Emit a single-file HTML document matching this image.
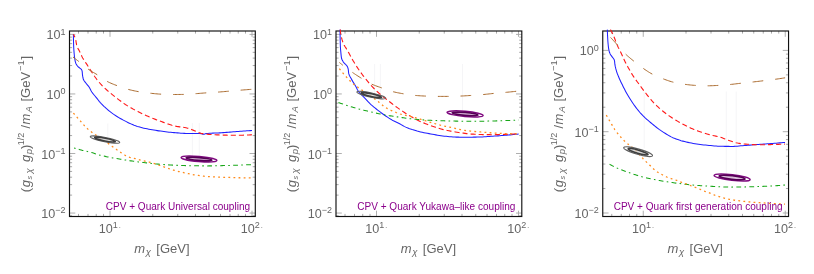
<!DOCTYPE html>
<html lang="en">
<head>
<meta charset="utf-8">
<title>CPV coupling limits</title>
<style>
html,body{margin:0;padding:0;background:#fff;}
body{width:814px;height:274px;overflow:hidden;}
svg{display:block;will-change:transform;}
</style>
</head>
<body>
<svg width="814" height="274" viewBox="0 0 814 274" font-family='"Liberation Sans", Arial, Helvetica, sans-serif'>
<rect width="814" height="274" fill="#ffffff"/>
<g id="panel1">
<clipPath id="clip0"><rect x="69.5" y="29.2" width="185.8" height="187.3"/></clipPath>
<path d="M78.5 216.5v-2.6M78.5 31v2.6M88 216.5v-2.6M88 31v2.6M96.24 216.5v-2.6M96.24 31v2.6M103.5 216.5v-2.6M103.5 31v2.6M152.75 216.5v-2.6M152.75 31v2.6M177.75 216.5v-2.6M177.75 31v2.6M195.49 216.5v-2.6M195.49 31v2.6M209.25 216.5v-2.6M209.25 31v2.6M220.5 216.5v-2.6M220.5 31v2.6M230 216.5v-2.6M230 31v2.6M238.24 216.5v-2.6M238.24 31v2.6M245.5 216.5v-2.6M245.5 31v2.6M69.5 215.77h2.6M255.3 215.77h-2.6M69.5 195.12h2.6M255.3 195.12h-2.6M69.5 184.64h2.6M255.3 184.64h-2.6M69.5 177.2h2.6M255.3 177.2h-2.6M69.5 171.43h2.6M255.3 171.43h-2.6M69.5 166.71h2.6M255.3 166.71h-2.6M69.5 162.72h2.6M255.3 162.72h-2.6M69.5 159.27h2.6M255.3 159.27h-2.6M69.5 156.22h2.6M255.3 156.22h-2.6M69.5 135.57h2.6M255.3 135.57h-2.6M69.5 125.09h2.6M255.3 125.09h-2.6M69.5 117.65h2.6M255.3 117.65h-2.6M69.5 111.88h2.6M255.3 111.88h-2.6M69.5 107.16h2.6M255.3 107.16h-2.6M69.5 103.17h2.6M255.3 103.17h-2.6M69.5 99.72h2.6M255.3 99.72h-2.6M69.5 96.67h2.6M255.3 96.67h-2.6M69.5 76.02h2.6M255.3 76.02h-2.6M69.5 65.54h2.6M255.3 65.54h-2.6M69.5 58.1h2.6M255.3 58.1h-2.6M69.5 52.33h2.6M255.3 52.33h-2.6M69.5 47.61h2.6M255.3 47.61h-2.6M69.5 43.62h2.6M255.3 43.62h-2.6M69.5 40.17h2.6M255.3 40.17h-2.6M69.5 37.12h2.6M255.3 37.12h-2.6" stroke="#7c7c7c" stroke-width="0.65" fill="none"/>
<path d="M110 216.5v-5.8M110 31v5.8M252 216.5v-5.8M252 31v5.8M69.5 34.4h5.8M255.3 34.4h-5.8M69.5 93.95h5.8M255.3 93.95h-5.8M69.5 153.5h5.8M255.3 153.5h-5.8M69.5 213.05h5.8M255.3 213.05h-5.8" stroke="#a6a6a6" stroke-width="0.9" fill="none"/>
<rect x="69.5" y="31" width="185.8" height="185.5" fill="none" stroke="#111111" stroke-width="1.15"/>
<g clip-path="url(#clip0)" fill="none" stroke-linecap="butt" stroke-linejoin="round">
<path d="M107.8 123.5V137.5M192.4 123V156.5M199.3 123V156.5" stroke="#f1f0f4" stroke-width="0.7"/>
<path d="M73.40 34.40 L73.41 36.10 L73.43 37.80 L73.46 39.51 L73.50 41.21 L73.56 42.91 L73.61 44.61 L73.67 46.30 L73.74 48.00 L73.85 49.70 L73.98 51.40 L74.12 53.09 L74.27 54.79 L74.44 56.48 L74.65 58.17 L74.93 59.86 L75.29 61.57 L75.77 63.19 L76.45 64.65 L77.52 66.01 L78.75 67.26 L80.13 68.33 L81.46 69.39 L82.09 70.92 L82.30 72.61 L82.42 74.31 L82.64 76.03 L82.94 77.73 L83.34 79.32 L84.09 80.79 L85.15 82.18 L86.23 83.54 L87.32 84.86 L88.43 86.16 L89.40 87.53 L90.19 89.04 L90.93 90.58 L91.81 92.03 L92.83 93.39 L93.91 94.72 L94.98 96.03 L96.08 97.33 L97.16 98.65 L98.19 100.01 L99.23 101.36 L100.35 102.62 L101.51 103.86 L102.71 105.08 L103.93 106.28 L105.18 107.45 L106.45 108.60 L107.74 109.72 L109.06 110.80 L110.38 111.85 L111.72 112.87 L113.09 113.86 L114.49 114.82 L115.91 115.77 L117.36 116.69 L118.82 117.59 L120.29 118.46 L121.78 119.30 L123.28 120.11 L124.78 120.89 L126.29 121.65 L127.82 122.41 L129.36 123.16 L130.91 123.88 L132.48 124.57 L134.06 125.23 L135.65 125.84 L137.25 126.39 L138.86 126.87 L140.49 127.32 L142.13 127.74 L143.78 128.14 L145.44 128.51 L147.12 128.86 L148.80 129.19 L150.48 129.50 L152.16 129.80 L153.84 130.08 L155.52 130.35 L157.19 130.61 L158.88 130.86 L160.56 131.10 L162.25 131.34 L163.94 131.56 L165.63 131.77 L167.32 131.97 L169.01 132.15 L170.70 132.32 L172.40 132.47 L174.09 132.61 L175.78 132.75 L177.48 132.89 L179.18 133.03 L180.88 133.16 L182.57 133.28 L184.27 133.39 L185.97 133.47 L187.67 133.54 L189.37 133.58 L191.07 133.60 L192.78 133.59 L194.49 133.57 L196.20 133.54 L197.90 133.52 L199.59 133.50 L201.26 133.61 L202.91 134.18 L204.54 134.11 L206.17 133.58 L207.84 133.42 L209.52 133.30 L211.22 133.21 L212.92 133.13 L214.63 133.07 L216.35 133.01 L218.06 132.94 L219.77 132.86 L221.46 132.76 L223.16 132.64 L224.86 132.52 L226.55 132.39 L228.25 132.26 L229.95 132.12 L231.64 131.99 L233.34 131.85 L235.03 131.71 L236.73 131.58 L238.42 131.45 L240.12 131.33 L241.82 131.20 L243.51 131.08 L245.21 130.96 L246.91 130.85 L248.61 130.73 L250.30 130.61 L252.00 130.50" stroke="#2020ff" stroke-width="1.05"/>
<path d="M73.40 34.40 L74.22 35.80 L74.93 37.24 L75.46 38.71 L75.82 40.25 L76.08 41.85 L76.32 43.46 L76.60 45.04 L76.99 46.55 L77.63 47.98 L78.49 49.35 L79.28 50.75 L79.97 52.19 L80.62 53.65 L81.27 55.11 L81.95 56.56 L82.69 57.96 L83.50 59.33 L84.36 60.67 L85.26 62.00 L86.16 63.32 L87.04 64.66 L87.89 66.00 L88.74 67.36 L89.59 68.71 L90.45 70.06 L91.31 71.40 L92.19 72.73 L93.07 74.06 L93.96 75.39 L94.86 76.71 L95.79 78.01 L96.73 79.29 L97.71 80.55 L98.72 81.78 L99.76 83.00 L100.82 84.20 L101.91 85.37 L103.01 86.51 L104.15 87.63 L105.32 88.71 L106.51 89.77 L107.72 90.82 L108.94 91.86 L110.16 92.88 L111.39 93.91 L112.62 94.92 L113.87 95.91 L115.13 96.89 L116.40 97.87 L117.66 98.84 L118.93 99.82 L120.20 100.79 L121.49 101.75 L122.78 102.69 L124.08 103.61 L125.40 104.51 L126.73 105.37 L128.08 106.20 L129.44 107.02 L130.82 107.82 L132.21 108.60 L133.61 109.37 L135.02 110.13 L136.44 110.87 L137.87 111.60 L139.30 112.32 L140.74 113.02 L142.18 113.71 L143.63 114.39 L145.08 115.05 L146.53 115.71 L147.99 116.34 L149.45 116.97 L150.93 117.59 L152.41 118.19 L153.89 118.78 L155.38 119.36 L156.87 119.93 L158.37 120.49 L159.87 121.04 L161.37 121.59 L162.87 122.14 L164.37 122.69 L165.87 123.25 L167.38 123.80 L168.89 124.33 L170.41 124.83 L171.94 125.30 L173.47 125.72 L175.01 126.08 L176.57 126.38 L178.15 126.63 L179.73 126.85 L181.33 127.05 L182.92 127.27 L184.49 127.51 L186.05 127.80 L187.59 128.17 L189.11 128.65 L190.61 129.19 L192.11 129.77 L193.60 130.36 L195.10 130.93 L196.57 131.59 L198.04 132.28 L199.53 132.89 L201.03 133.33 L202.56 133.58 L204.12 133.81 L205.70 134.00 L207.29 134.18 L208.89 134.33 L210.49 134.46 L212.10 134.57 L213.71 134.67 L215.31 134.75 L216.90 134.83 L218.50 134.89 L220.09 134.96 L221.68 135.02 L223.28 135.08 L224.88 135.13 L226.47 135.18 L228.07 135.22 L229.66 135.25 L231.26 135.28 L232.86 135.29 L234.45 135.30 L236.05 135.30 L237.64 135.28 L239.24 135.26 L240.83 135.23 L242.43 135.20 L244.02 135.15 L245.62 135.10 L247.21 135.03 L248.81 134.96 L250.40 134.89 L252.00 134.80" stroke="#ff1a1a" stroke-width="1.12" stroke-dasharray="5.1 3" stroke-dashoffset="1.8"/>
<path d="M73.00 57.00 L74.08 57.83 L75.15 58.66 L76.22 59.50 L77.29 60.34 L78.36 61.18 L79.43 62.02 L80.48 62.88 L81.53 63.75 L82.58 64.63 L83.62 65.50 L84.67 66.37 L85.72 67.23 L86.79 68.08 L87.87 68.90 L88.96 69.69 L90.08 70.45 L91.22 71.18 L92.39 71.88 L93.57 72.56 L94.75 73.24 L95.92 73.94 L97.08 74.65 L98.22 75.40 L99.34 76.17 L100.46 76.96 L101.57 77.76 L102.68 78.55 L103.80 79.33 L104.94 80.08 L106.08 80.80 L107.25 81.46 L108.45 82.08 L109.67 82.66 L110.91 83.21 L112.16 83.74 L113.43 84.25 L114.70 84.75 L115.98 85.23 L117.26 85.71 L118.53 86.18 L119.81 86.65 L121.09 87.11 L122.37 87.56 L123.66 88.00 L124.96 88.43 L126.26 88.83 L127.56 89.21 L128.87 89.57 L130.18 89.90 L131.50 90.21 L132.83 90.52 L134.16 90.80 L135.49 91.08 L136.83 91.34 L138.17 91.58 L139.51 91.80 L140.85 92.01 L142.19 92.21 L143.54 92.41 L144.89 92.59 L146.24 92.76 L147.59 92.93 L148.94 93.08 L150.29 93.23 L151.64 93.37 L152.99 93.50 L154.35 93.64 L155.70 93.77 L157.06 93.89 L158.41 94.00 L159.77 94.10 L161.12 94.17 L162.48 94.23 L163.84 94.28 L165.20 94.33 L166.56 94.37 L167.92 94.41 L169.27 94.45 L170.63 94.47 L171.99 94.49 L173.35 94.50 L174.71 94.50 L176.07 94.49 L177.43 94.49 L178.79 94.48 L180.15 94.46 L181.51 94.45 L182.87 94.43 L184.23 94.41 L185.59 94.38 L186.94 94.33 L188.30 94.26 L189.66 94.17 L191.01 94.06 L192.37 93.95 L193.72 93.84 L195.08 93.72 L196.44 93.62 L197.79 93.52 L199.15 93.42 L200.50 93.31 L201.86 93.20 L203.21 93.09 L204.57 92.98 L205.92 92.88 L207.28 92.78 L208.63 92.69 L209.99 92.60 L211.35 92.51 L212.70 92.43 L214.06 92.34 L215.42 92.25 L216.77 92.16 L218.13 92.07 L219.49 91.97 L220.84 91.87 L222.20 91.76 L223.55 91.65 L224.90 91.53 L226.26 91.41 L227.61 91.30 L228.97 91.18 L230.32 91.06 L231.68 90.95 L233.03 90.83 L234.38 90.71 L235.74 90.59 L237.09 90.47 L238.45 90.35 L239.80 90.23 L241.16 90.12 L242.51 90.01 L243.87 89.90 L245.22 89.80 L246.58 89.70 L247.93 89.59 L249.29 89.49 L250.64 89.40 L252.00 89.30" stroke="#ab6c30" stroke-width="1.0" stroke-dasharray="10.7 11.9" stroke-dashoffset="3.2"/>
<path d="M72.50 147.50 L73.75 147.89 L74.99 148.27 L76.24 148.64 L77.50 149.01 L78.75 149.37 L80.01 149.72 L81.27 150.06 L82.53 150.39 L83.80 150.70 L85.07 151.00 L86.34 151.29 L87.61 151.58 L88.89 151.87 L90.16 152.18 L91.42 152.50 L92.68 152.84 L93.92 153.22 L95.16 153.65 L96.39 154.09 L97.62 154.51 L98.87 154.87 L100.13 155.20 L101.39 155.51 L102.66 155.81 L103.93 156.10 L105.21 156.38 L106.48 156.65 L107.77 156.92 L109.05 157.17 L110.33 157.42 L111.62 157.66 L112.90 157.90 L114.19 158.13 L115.47 158.36 L116.75 158.59 L118.04 158.81 L119.32 159.03 L120.61 159.25 L121.90 159.46 L123.19 159.67 L124.47 159.88 L125.76 160.08 L127.05 160.28 L128.34 160.48 L129.64 160.67 L130.93 160.86 L132.22 161.04 L133.51 161.22 L134.80 161.40 L136.10 161.57 L137.39 161.74 L138.68 161.91 L139.98 162.08 L141.27 162.24 L142.57 162.41 L143.86 162.57 L145.16 162.73 L146.45 162.89 L147.75 163.05 L149.05 163.20 L150.34 163.35 L151.64 163.50 L152.94 163.64 L154.24 163.77 L155.53 163.90 L156.83 164.03 L158.13 164.14 L159.43 164.25 L160.73 164.35 L162.03 164.44 L163.33 164.54 L164.63 164.63 L165.93 164.71 L167.23 164.80 L168.54 164.88 L169.84 164.97 L171.14 165.04 L172.45 165.12 L173.75 165.19 L175.05 165.26 L176.36 165.32 L177.66 165.38 L178.96 165.44 L180.27 165.49 L181.57 165.53 L182.88 165.57 L184.18 165.60 L185.48 165.62 L186.79 165.65 L188.09 165.68 L189.40 165.70 L190.70 165.73 L192.01 165.75 L193.31 165.77 L194.61 165.79 L195.92 165.81 L197.22 165.83 L198.53 165.85 L199.83 165.86 L201.14 165.87 L202.44 165.88 L203.75 165.89 L205.05 165.90 L206.36 165.90 L207.66 165.90 L208.97 165.89 L210.27 165.88 L211.57 165.87 L212.88 165.85 L214.18 165.83 L215.49 165.80 L216.79 165.77 L218.10 165.74 L219.40 165.71 L220.71 165.67 L222.01 165.63 L223.31 165.59 L224.62 165.56 L225.92 165.52 L227.23 165.48 L228.53 165.44 L229.84 165.40 L231.14 165.37 L232.44 165.33 L233.75 165.29 L235.05 165.25 L236.36 165.21 L237.66 165.16 L238.96 165.12 L240.27 165.07 L241.57 165.02 L242.87 164.97 L244.18 164.92 L245.48 164.87 L246.79 164.82 L248.09 164.77 L249.39 164.71 L250.70 164.66 L252.00 164.60" stroke="#17a617" stroke-width="1.05" stroke-dasharray="4.8 3.3 1.6 3.3" stroke-dashoffset="6.5"/>
<path d="M73.40 113.10 L74.33 114.17 L75.27 115.23 L76.21 116.30 L77.14 117.36 L78.08 118.42 L79.03 119.48 L79.97 120.53 L80.91 121.59 L81.84 122.67 L82.77 123.75 L83.70 124.83 L84.64 125.89 L85.61 126.93 L86.60 127.93 L87.63 128.88 L88.70 129.80 L89.80 130.69 L90.92 131.56 L92.07 132.41 L93.22 133.25 L94.38 134.07 L95.54 134.87 L96.73 135.65 L97.93 136.40 L99.14 137.15 L100.35 137.89 L101.55 138.64 L102.73 139.42 L103.90 140.23 L105.04 141.06 L106.18 141.90 L107.31 142.76 L108.44 143.62 L109.57 144.47 L110.71 145.32 L111.86 146.15 L113.01 146.98 L114.16 147.81 L115.31 148.64 L116.46 149.47 L117.62 150.29 L118.78 151.10 L119.95 151.90 L121.12 152.70 L122.30 153.48 L123.49 154.25 L124.68 155.05 L125.89 155.79 L127.14 156.41 L128.46 156.92 L129.81 157.37 L131.18 157.77 L132.55 158.10 L133.94 158.38 L135.34 158.66 L136.72 158.98 L138.08 159.37 L139.43 159.79 L140.79 160.19 L142.17 160.54 L143.55 160.86 L144.94 161.15 L146.32 161.45 L147.71 161.75 L149.09 162.07 L150.46 162.42 L151.82 162.81 L153.17 163.23 L154.52 163.66 L155.87 164.11 L157.21 164.57 L158.55 165.03 L159.89 165.49 L161.24 165.95 L162.58 166.40 L163.92 166.87 L165.25 167.35 L166.59 167.83 L167.93 168.30 L169.26 168.77 L170.61 169.22 L171.96 169.65 L173.31 170.05 L174.68 170.43 L176.04 170.80 L177.42 171.16 L178.79 171.51 L180.17 171.84 L181.55 172.17 L182.93 172.49 L184.31 172.80 L185.70 173.11 L187.08 173.42 L188.47 173.73 L189.85 174.02 L191.24 174.31 L192.64 174.58 L194.03 174.83 L195.43 175.06 L196.82 175.27 L198.23 175.48 L199.63 175.68 L201.04 175.87 L202.45 176.05 L203.86 176.21 L205.27 176.35 L206.68 176.47 L208.09 176.57 L209.50 176.65 L210.91 176.74 L212.33 176.82 L213.74 176.89 L215.16 176.96 L216.57 177.02 L217.99 177.09 L219.41 177.14 L220.82 177.20 L222.24 177.25 L223.66 177.30 L225.08 177.35 L226.50 177.39 L227.91 177.44 L229.33 177.48 L230.75 177.52 L232.16 177.56 L233.58 177.60 L235.00 177.64 L236.41 177.68 L237.83 177.72 L239.25 177.76 L240.66 177.79 L242.08 177.82 L243.50 177.85 L244.91 177.88 L246.33 177.91 L247.75 177.94 L249.17 177.96 L250.58 177.98 L252.00 178.00" stroke="#ff8a1a" stroke-width="1.28" stroke-dasharray="1.85 3.25"/>
<g transform="translate(105 139.6) rotate(11.1)"><ellipse rx="15" ry="2.15" stroke="#626262" stroke-width="1.12"/><ellipse rx="10.6" ry="1.35" stroke="#3e3e3e" stroke-width="1.6" fill="#cdcdcd" fill-opacity="0.75"/></g>
<g transform="translate(199 159) rotate(4.9)"><ellipse rx="17.9" ry="2.55" stroke="#800a80" stroke-width="1.5"/><ellipse rx="12.8" ry="1.4" stroke="#560056" stroke-width="1.7" fill="#d2b2d2" fill-opacity="0.8"/></g>
</g>
<text x="65.6" y="39.4" text-anchor="end" font-size="12.6" fill="#666666">10<tspan font-size="9" dy="-4.7">1</tspan></text>
<text x="65.6" y="98.95" text-anchor="end" font-size="12.6" fill="#666666">10<tspan font-size="9" dy="-4.7">0</tspan></text>
<text x="65.6" y="158.5" text-anchor="end" font-size="12.6" fill="#666666">10<tspan font-size="9" dy="-4.7">−1</tspan></text>
<text x="65.6" y="218.05" text-anchor="end" font-size="12.6" fill="#666666">10<tspan font-size="9" dy="-4.7">−2</tspan></text>
<text x="98.7" y="232.7" font-size="12.6" fill="#666666">10<tspan font-size="9" dy="-5.0">1</tspan><tspan font-size="9" fill="#a0a0a0" dx="0.8">.</tspan></text>
<text x="240.7" y="232.7" font-size="12.6" fill="#666666">10<tspan font-size="9" dy="-5.0">2</tspan><tspan font-size="9" fill="#a0a0a0" dx="0.8">.</tspan></text>
<text y="253.3" font-size="13" fill="#666666"><tspan x="134.3" font-style="italic">m</tspan><tspan x="145.7" font-style="italic" font-size="9.5" dy="1.9">χ</tspan><tspan x="156.3" dy="-1.9">[GeV]</tspan></text>
<text transform="translate(29.5 191.5) rotate(-90)" font-size="13" fill="#666666"><tspan x="-0.8">(</tspan><tspan x="4.3" font-style="italic">g</tspan><tspan x="11.9" dy="2" font-style="italic" font-size="7.2">s</tspan><tspan x="18.1" font-style="italic" font-size="9.5">χ</tspan><tspan x="29.6" dy="-2" font-style="italic">g</tspan><tspan x="37.2" dy="2" font-style="italic" font-size="9.5">p</tspan><tspan x="42.4" dy="-2">)</tspan><tspan x="46.3" dy="-5.8" font-size="9">1/2</tspan><tspan x="62.9" dy="5.8">/</tspan><tspan x="67.1" font-style="italic">m</tspan><tspan x="79.1" dy="2" font-style="italic" font-size="9.5">A</tspan><tspan x="90" dy="-2">[GeV</tspan><tspan x="120.5" dy="-5.8" font-size="9.3">−1</tspan><tspan x="131.9" dy="5.8">]</tspan></text>
<text x="250.1" y="209.7" text-anchor="end" font-size="10.05" fill="#8b008b">CPV + Quark Universal coupling</text>
</g>
<g id="panel2">
<clipPath id="clip1"><rect x="336" y="29.2" width="185.8" height="187.3"/></clipPath>
<path d="M345 216.5v-2.6M345 31v2.6M354.5 216.5v-2.6M354.5 31v2.6M362.74 216.5v-2.6M362.74 31v2.6M370 216.5v-2.6M370 31v2.6M419.25 216.5v-2.6M419.25 31v2.6M444.25 216.5v-2.6M444.25 31v2.6M461.99 216.5v-2.6M461.99 31v2.6M475.75 216.5v-2.6M475.75 31v2.6M487 216.5v-2.6M487 31v2.6M496.5 216.5v-2.6M496.5 31v2.6M504.74 216.5v-2.6M504.74 31v2.6M512 216.5v-2.6M512 31v2.6M336 215.77h2.6M521.8 215.77h-2.6M336 195.12h2.6M521.8 195.12h-2.6M336 184.64h2.6M521.8 184.64h-2.6M336 177.2h2.6M521.8 177.2h-2.6M336 171.43h2.6M521.8 171.43h-2.6M336 166.71h2.6M521.8 166.71h-2.6M336 162.72h2.6M521.8 162.72h-2.6M336 159.27h2.6M521.8 159.27h-2.6M336 156.22h2.6M521.8 156.22h-2.6M336 135.57h2.6M521.8 135.57h-2.6M336 125.09h2.6M521.8 125.09h-2.6M336 117.65h2.6M521.8 117.65h-2.6M336 111.88h2.6M521.8 111.88h-2.6M336 107.16h2.6M521.8 107.16h-2.6M336 103.17h2.6M521.8 103.17h-2.6M336 99.72h2.6M521.8 99.72h-2.6M336 96.67h2.6M521.8 96.67h-2.6M336 76.02h2.6M521.8 76.02h-2.6M336 65.54h2.6M521.8 65.54h-2.6M336 58.1h2.6M521.8 58.1h-2.6M336 52.33h2.6M521.8 52.33h-2.6M336 47.61h2.6M521.8 47.61h-2.6M336 43.62h2.6M521.8 43.62h-2.6M336 40.17h2.6M521.8 40.17h-2.6M336 37.12h2.6M521.8 37.12h-2.6" stroke="#7c7c7c" stroke-width="0.65" fill="none"/>
<path d="M376.5 216.5v-5.8M376.5 31v5.8M518.5 216.5v-5.8M518.5 31v5.8M336 34.4h5.8M521.8 34.4h-5.8M336 93.95h5.8M521.8 93.95h-5.8M336 153.5h5.8M521.8 153.5h-5.8M336 213.05h5.8M521.8 213.05h-5.8" stroke="#a6a6a6" stroke-width="0.9" fill="none"/>
<rect x="336" y="31" width="185.8" height="185.5" fill="none" stroke="#111111" stroke-width="1.15"/>
<g clip-path="url(#clip1)" fill="none" stroke-linecap="butt" stroke-linejoin="round">
<path d="M374.6 64V94M380.4 64V96M462.5 64V111" stroke="#f1f0f4" stroke-width="0.7"/>
<path d="M340.05 29.40 L340.05 31.13 L340.07 32.87 L340.08 34.60 L340.11 36.33 L340.14 38.06 L340.17 39.79 L340.22 41.52 L340.26 43.25 L340.31 44.98 L340.39 46.71 L340.50 48.44 L340.64 50.17 L340.80 51.89 L340.96 53.62 L341.13 55.36 L341.34 57.09 L341.66 58.75 L342.34 60.35 L343.22 61.85 L344.28 63.23 L345.52 64.48 L346.82 65.66 L347.63 67.11 L348.16 68.80 L348.40 70.51 L348.55 72.25 L348.84 73.92 L349.43 75.51 L350.24 77.07 L351.14 78.60 L352.01 80.12 L352.87 81.63 L353.76 83.11 L354.67 84.58 L355.56 86.07 L356.38 87.61 L357.19 89.17 L358.03 90.68 L358.97 92.10 L360.07 93.39 L361.30 94.62 L362.58 95.82 L363.84 97.03 L365.03 98.29 L366.20 99.57 L367.36 100.85 L368.54 102.13 L369.75 103.37 L370.99 104.55 L372.28 105.71 L373.60 106.83 L374.94 107.94 L376.30 109.02 L377.65 110.09 L379.03 111.15 L380.41 112.19 L381.81 113.21 L383.22 114.21 L384.64 115.21 L386.06 116.20 L387.49 117.18 L388.94 118.14 L390.41 119.06 L391.90 119.92 L393.43 120.71 L395.00 121.46 L396.57 122.20 L398.13 122.95 L399.66 123.77 L401.15 124.66 L402.64 125.56 L404.15 126.38 L405.72 127.11 L407.31 127.78 L408.93 128.42 L410.56 129.02 L412.20 129.58 L413.85 130.10 L415.50 130.59 L417.17 131.06 L418.85 131.49 L420.54 131.91 L422.22 132.30 L423.92 132.66 L425.61 133.00 L427.31 133.33 L429.02 133.64 L430.72 133.96 L432.42 134.28 L434.13 134.59 L435.83 134.89 L437.54 135.17 L439.25 135.44 L440.97 135.69 L442.68 135.93 L444.40 136.15 L446.12 136.35 L447.84 136.52 L449.57 136.68 L451.29 136.83 L453.02 136.96 L454.75 137.05 L456.48 137.11 L458.21 137.13 L459.94 137.16 L461.67 137.18 L463.41 137.19 L465.14 137.20 L466.87 137.20 L468.60 137.19 L470.33 137.18 L472.07 137.16 L473.80 137.14 L475.53 137.11 L477.26 137.09 L478.99 137.04 L480.72 136.98 L482.45 136.90 L484.18 136.81 L485.91 136.70 L487.64 136.59 L489.36 136.47 L491.09 136.35 L492.82 136.22 L494.55 136.10 L496.28 135.98 L498.00 135.86 L499.73 135.73 L501.46 135.60 L503.18 135.46 L504.91 135.32 L506.63 135.17 L508.36 135.01 L510.08 134.86 L511.81 134.69 L513.53 134.53 L515.25 134.35 L516.98 134.18 L518.70 134.00" stroke="#2020ff" stroke-width="1.05"/>
<path d="M340.30 29.40 L340.39 31.09 L340.56 32.75 L340.82 34.38 L341.14 35.99 L341.51 37.58 L341.92 39.14 L342.37 40.67 L342.83 42.19 L343.38 43.66 L344.11 45.10 L344.95 46.51 L345.86 47.90 L346.75 49.30 L347.57 50.71 L348.36 52.14 L349.14 53.57 L349.91 55.00 L350.69 56.44 L351.47 57.86 L352.27 59.28 L353.09 60.68 L353.93 62.08 L354.78 63.47 L355.64 64.85 L356.52 66.22 L357.41 67.59 L358.32 68.94 L359.23 70.28 L360.16 71.62 L361.11 72.95 L362.07 74.26 L363.04 75.57 L364.03 76.87 L365.03 78.15 L366.04 79.42 L367.07 80.69 L368.11 81.94 L369.17 83.18 L370.24 84.41 L371.33 85.62 L372.43 86.82 L373.55 88.00 L374.69 89.16 L375.85 90.31 L377.03 91.43 L378.23 92.53 L379.44 93.61 L380.68 94.67 L381.93 95.71 L383.19 96.74 L384.47 97.75 L385.75 98.76 L387.03 99.77 L388.31 100.77 L389.59 101.78 L390.87 102.78 L392.16 103.78 L393.45 104.77 L394.75 105.75 L396.06 106.72 L397.38 107.67 L398.71 108.61 L400.05 109.54 L401.39 110.46 L402.74 111.38 L404.10 112.28 L405.47 113.16 L406.85 114.03 L408.23 114.88 L409.63 115.71 L411.03 116.54 L412.45 117.35 L413.87 118.16 L415.30 118.94 L416.74 119.71 L418.19 120.45 L419.65 121.16 L421.12 121.84 L422.61 122.49 L424.11 123.13 L425.62 123.74 L427.14 124.33 L428.67 124.91 L430.20 125.47 L431.73 126.01 L433.27 126.54 L434.81 127.06 L436.36 127.57 L437.92 128.07 L439.48 128.54 L441.04 128.99 L442.62 129.41 L444.19 129.79 L445.78 130.14 L447.37 130.48 L448.97 130.80 L450.57 131.10 L452.18 131.39 L453.78 131.68 L455.39 131.95 L456.99 132.22 L458.60 132.47 L460.21 132.72 L461.82 132.95 L463.44 133.17 L465.05 133.39 L466.66 133.60 L468.28 133.78 L469.90 133.93 L471.52 134.07 L473.15 134.18 L474.77 134.28 L476.40 134.37 L478.03 134.44 L479.65 134.50 L481.28 134.56 L482.91 134.60 L484.54 134.64 L486.17 134.66 L487.79 134.67 L489.42 134.68 L491.05 134.69 L492.68 134.70 L494.31 134.70 L495.93 134.67 L497.56 134.62 L499.19 134.56 L500.82 134.51 L502.44 134.46 L504.07 134.40 L505.70 134.35 L507.32 134.29 L508.95 134.22 L510.58 134.15 L512.20 134.06 L513.83 133.96 L515.45 133.85 L517.08 133.73 L518.70 133.60" stroke="#ff1a1a" stroke-width="1.12" stroke-dasharray="5.1 3"/>
<path d="M339.40 62.50 L340.45 63.35 L341.50 64.20 L342.56 65.04 L343.63 65.87 L344.70 66.69 L345.77 67.52 L346.85 68.33 L347.93 69.15 L349.01 69.95 L350.10 70.75 L351.20 71.54 L352.31 72.31 L353.42 73.08 L354.54 73.84 L355.66 74.59 L356.79 75.33 L357.93 76.06 L359.07 76.78 L360.22 77.50 L361.36 78.21 L362.51 78.93 L363.66 79.65 L364.82 80.37 L365.98 81.07 L367.14 81.76 L368.32 82.43 L369.51 83.07 L370.71 83.67 L371.92 84.24 L373.15 84.77 L374.40 85.27 L375.67 85.75 L376.94 86.22 L378.22 86.68 L379.50 87.12 L380.78 87.57 L382.05 88.03 L383.32 88.49 L384.59 88.95 L385.87 89.41 L387.14 89.87 L388.42 90.31 L389.71 90.73 L391.00 91.13 L392.29 91.49 L393.60 91.83 L394.91 92.14 L396.23 92.43 L397.55 92.72 L398.88 92.98 L400.21 93.23 L401.54 93.47 L402.87 93.70 L404.20 93.92 L405.54 94.14 L406.87 94.35 L408.21 94.56 L409.55 94.76 L410.89 94.94 L412.23 95.11 L413.57 95.27 L414.92 95.41 L416.26 95.52 L417.61 95.62 L418.95 95.72 L420.30 95.81 L421.65 95.89 L423.00 95.96 L424.35 96.02 L425.70 96.08 L427.05 96.13 L428.40 96.17 L429.75 96.22 L431.10 96.26 L432.46 96.30 L433.81 96.34 L435.16 96.36 L436.51 96.39 L437.86 96.40 L439.21 96.40 L440.56 96.40 L441.91 96.40 L443.26 96.40 L444.62 96.40 L445.97 96.40 L447.32 96.40 L448.67 96.40 L450.02 96.40 L451.37 96.38 L452.72 96.35 L454.07 96.31 L455.42 96.27 L456.77 96.21 L458.13 96.16 L459.48 96.10 L460.83 96.04 L462.17 95.98 L463.52 95.91 L464.87 95.84 L466.22 95.76 L467.57 95.68 L468.92 95.59 L470.27 95.50 L471.62 95.40 L472.96 95.31 L474.31 95.22 L475.66 95.12 L477.01 95.02 L478.36 94.92 L479.70 94.81 L481.05 94.70 L482.40 94.59 L483.74 94.47 L485.09 94.35 L486.43 94.21 L487.77 94.07 L489.12 93.92 L490.46 93.77 L491.80 93.61 L493.15 93.47 L494.49 93.33 L495.84 93.20 L497.18 93.08 L498.53 92.96 L499.87 92.85 L501.22 92.74 L502.57 92.62 L503.91 92.51 L505.26 92.40 L506.61 92.28 L507.95 92.15 L509.30 92.02 L510.64 91.89 L511.98 91.75 L513.33 91.60 L514.67 91.46 L516.01 91.31 L517.36 91.16 L518.70 91.00" stroke="#ab6c30" stroke-width="1.0" stroke-dasharray="10.7 11.9" stroke-dashoffset="6.2"/>
<path d="M338.50 102.50 L339.73 102.95 L340.96 103.40 L342.20 103.84 L343.44 104.28 L344.68 104.70 L345.92 105.12 L347.17 105.52 L348.41 105.92 L349.67 106.32 L350.92 106.71 L352.17 107.09 L353.43 107.47 L354.69 107.84 L355.95 108.20 L357.21 108.55 L358.48 108.89 L359.75 109.22 L361.02 109.54 L362.29 109.85 L363.57 110.15 L364.84 110.45 L366.12 110.74 L367.40 111.04 L368.68 111.33 L369.96 111.62 L371.24 111.92 L372.51 112.22 L373.79 112.53 L375.06 112.83 L376.34 113.13 L377.62 113.43 L378.90 113.72 L380.18 113.99 L381.46 114.25 L382.75 114.50 L384.04 114.75 L385.33 114.99 L386.62 115.22 L387.91 115.45 L389.20 115.67 L390.50 115.88 L391.79 116.10 L393.09 116.30 L394.38 116.51 L395.68 116.70 L396.98 116.89 L398.27 117.08 L399.57 117.27 L400.87 117.46 L402.17 117.64 L403.47 117.83 L404.77 118.00 L406.07 118.18 L407.37 118.35 L408.67 118.52 L409.97 118.67 L411.27 118.83 L412.58 118.97 L413.88 119.10 L415.19 119.23 L416.49 119.34 L417.80 119.45 L419.10 119.56 L420.41 119.66 L421.72 119.76 L423.02 119.86 L424.33 119.95 L425.64 120.04 L426.95 120.12 L428.26 120.20 L429.57 120.27 L430.88 120.34 L432.19 120.41 L433.50 120.47 L434.81 120.52 L436.12 120.57 L437.43 120.62 L438.74 120.67 L440.05 120.72 L441.36 120.76 L442.67 120.81 L443.98 120.85 L445.29 120.89 L446.60 120.92 L447.92 120.96 L449.23 120.99 L450.54 121.02 L451.85 121.05 L453.16 121.07 L454.47 121.09 L455.78 121.12 L457.09 121.14 L458.40 121.16 L459.71 121.18 L461.03 121.20 L462.34 121.21 L463.65 121.23 L464.96 121.25 L466.27 121.26 L467.58 121.27 L468.89 121.28 L470.20 121.29 L471.52 121.30 L472.83 121.30 L474.14 121.30 L475.45 121.29 L476.76 121.28 L478.07 121.27 L479.38 121.26 L480.69 121.24 L482.01 121.22 L483.32 121.19 L484.63 121.17 L485.94 121.14 L487.25 121.11 L488.56 121.08 L489.87 121.05 L491.18 121.02 L492.49 120.99 L493.80 120.95 L495.12 120.92 L496.43 120.89 L497.74 120.86 L499.05 120.82 L500.36 120.78 L501.67 120.74 L502.98 120.69 L504.29 120.64 L505.60 120.59 L506.91 120.54 L508.22 120.49 L509.53 120.43 L510.84 120.38 L512.15 120.32 L513.46 120.26 L514.77 120.19 L516.08 120.13 L517.39 120.07 L518.70 120.00" stroke="#17a617" stroke-width="1.05" stroke-dasharray="4.8 3.3 1.6 3.3"/>
<path d="M339.40 68.70 L340.27 69.83 L341.15 70.94 L342.05 72.05 L342.96 73.14 L343.88 74.22 L344.81 75.28 L345.76 76.33 L346.72 77.39 L347.69 78.43 L348.67 79.47 L349.67 80.49 L350.68 81.49 L351.71 82.46 L352.76 83.41 L353.84 84.31 L354.97 85.18 L356.12 86.02 L357.27 86.85 L358.42 87.68 L359.59 88.50 L360.76 89.30 L361.94 90.09 L363.13 90.86 L364.34 91.61 L365.55 92.36 L366.75 93.11 L367.94 93.88 L369.12 94.67 L370.28 95.49 L371.42 96.34 L372.55 97.19 L373.67 98.07 L374.79 98.94 L375.91 99.82 L377.03 100.69 L378.16 101.56 L379.29 102.42 L380.40 103.30 L381.49 104.21 L382.54 105.18 L383.60 106.13 L384.72 106.98 L385.92 107.72 L387.18 108.39 L388.46 109.03 L389.73 109.67 L391.00 110.30 L392.29 110.90 L393.59 111.47 L394.91 112.00 L396.23 112.52 L397.56 113.01 L398.89 113.51 L400.23 114.01 L401.58 114.45 L402.94 114.81 L404.33 115.09 L405.73 115.36 L407.12 115.65 L408.51 115.96 L409.89 116.28 L411.27 116.62 L412.65 116.97 L414.02 117.33 L415.39 117.71 L416.76 118.09 L418.12 118.48 L419.49 118.88 L420.85 119.29 L422.21 119.70 L423.56 120.12 L424.91 120.56 L426.27 121.00 L427.62 121.43 L428.97 121.86 L430.33 122.28 L431.69 122.69 L433.05 123.09 L434.41 123.49 L435.78 123.88 L437.15 124.27 L438.52 124.64 L439.89 125.00 L441.27 125.34 L442.65 125.66 L444.04 125.97 L445.42 126.27 L446.81 126.57 L448.20 126.86 L449.59 127.17 L450.98 127.47 L452.36 127.79 L453.75 128.11 L455.13 128.43 L456.52 128.75 L457.90 129.05 L459.29 129.34 L460.69 129.62 L462.08 129.89 L463.48 130.15 L464.88 130.39 L466.28 130.60 L467.69 130.77 L469.09 130.94 L470.50 131.09 L471.92 131.24 L473.33 131.38 L474.75 131.51 L476.16 131.63 L477.58 131.75 L479.00 131.87 L480.41 131.98 L481.83 132.09 L483.25 132.20 L484.66 132.31 L486.08 132.43 L487.49 132.54 L488.91 132.65 L490.33 132.76 L491.74 132.87 L493.16 132.98 L494.58 133.08 L495.99 133.17 L497.41 133.25 L498.83 133.33 L500.25 133.39 L501.66 133.45 L503.08 133.50 L504.50 133.55 L505.92 133.61 L507.34 133.66 L508.76 133.70 L510.18 133.74 L511.60 133.78 L513.02 133.82 L514.44 133.85 L515.86 133.87 L517.28 133.89 L518.70 133.90" stroke="#ff8a1a" stroke-width="1.28" stroke-dasharray="1.85 3.25"/>
<g transform="translate(371.3 95.1) rotate(12.3)"><ellipse rx="14.8" ry="2.2" stroke="#626262" stroke-width="1.12"/><ellipse rx="10.5" ry="1.35" stroke="#3e3e3e" stroke-width="1.6" fill="#cdcdcd" fill-opacity="0.75"/></g>
<g transform="translate(465.1 113.9) rotate(5.1)"><ellipse rx="18.1" ry="2.65" stroke="#800a80" stroke-width="1.5"/><ellipse rx="12.9" ry="1.45" stroke="#560056" stroke-width="1.7" fill="#d2b2d2" fill-opacity="0.8"/></g>
</g>
<text x="332.1" y="39.4" text-anchor="end" font-size="12.6" fill="#666666">10<tspan font-size="9" dy="-4.7">1</tspan></text>
<text x="332.1" y="98.95" text-anchor="end" font-size="12.6" fill="#666666">10<tspan font-size="9" dy="-4.7">0</tspan></text>
<text x="332.1" y="158.5" text-anchor="end" font-size="12.6" fill="#666666">10<tspan font-size="9" dy="-4.7">−1</tspan></text>
<text x="332.1" y="218.05" text-anchor="end" font-size="12.6" fill="#666666">10<tspan font-size="9" dy="-4.7">−2</tspan></text>
<text x="365.2" y="232.7" font-size="12.6" fill="#666666">10<tspan font-size="9" dy="-5.0">1</tspan><tspan font-size="9" fill="#a0a0a0" dx="0.8">.</tspan></text>
<text x="507.2" y="232.7" font-size="12.6" fill="#666666">10<tspan font-size="9" dy="-5.0">2</tspan><tspan font-size="9" fill="#a0a0a0" dx="0.8">.</tspan></text>
<text y="253.3" font-size="13" fill="#666666"><tspan x="400.8" font-style="italic">m</tspan><tspan x="412.2" font-style="italic" font-size="9.5" dy="1.9">χ</tspan><tspan x="422.8" dy="-1.9">[GeV]</tspan></text>
<text transform="translate(296 191.5) rotate(-90)" font-size="13" fill="#666666"><tspan x="-0.8">(</tspan><tspan x="4.3" font-style="italic">g</tspan><tspan x="11.9" dy="2" font-style="italic" font-size="7.2">s</tspan><tspan x="18.1" font-style="italic" font-size="9.5">χ</tspan><tspan x="29.6" dy="-2" font-style="italic">g</tspan><tspan x="37.2" dy="2" font-style="italic" font-size="9.5">p</tspan><tspan x="42.4" dy="-2">)</tspan><tspan x="46.3" dy="-5.8" font-size="9">1/2</tspan><tspan x="62.9" dy="5.8">/</tspan><tspan x="67.1" font-style="italic">m</tspan><tspan x="79.1" dy="2" font-style="italic" font-size="9.5">A</tspan><tspan x="90" dy="-2">[GeV</tspan><tspan x="120.5" dy="-5.8" font-size="9.3">−1</tspan><tspan x="131.9" dy="5.8">]</tspan></text>
<text x="515.4" y="209.7" text-anchor="end" font-size="10.05" fill="#8b008b">CPV + Quark Yukawa–like coupling</text>
</g>
<g id="panel3">
<clipPath id="clip2"><rect x="602.75" y="29.2" width="185.8" height="187.3"/></clipPath>
<path d="M611.75 216.5v-2.6M611.75 31v2.6M621.25 216.5v-2.6M621.25 31v2.6M629.49 216.5v-2.6M629.49 31v2.6M636.75 216.5v-2.6M636.75 31v2.6M686 216.5v-2.6M686 31v2.6M711 216.5v-2.6M711 31v2.6M728.74 216.5v-2.6M728.74 31v2.6M742.5 216.5v-2.6M742.5 31v2.6M753.75 216.5v-2.6M753.75 31v2.6M763.25 216.5v-2.6M763.25 31v2.6M771.49 216.5v-2.6M771.49 31v2.6M778.75 216.5v-2.6M778.75 31v2.6M602.75 188.53h2.6M788.55 188.53h-2.6M602.75 174.21h2.6M788.55 174.21h-2.6M602.75 164.05h2.6M788.55 164.05h-2.6M602.75 156.17h2.6M788.55 156.17h-2.6M602.75 149.74h2.6M788.55 149.74h-2.6M602.75 144.29h2.6M788.55 144.29h-2.6M602.75 139.58h2.6M788.55 139.58h-2.6M602.75 135.42h2.6M788.55 135.42h-2.6M602.75 107.23h2.6M788.55 107.23h-2.6M602.75 92.91h2.6M788.55 92.91h-2.6M602.75 82.75h2.6M788.55 82.75h-2.6M602.75 74.87h2.6M788.55 74.87h-2.6M602.75 68.44h2.6M788.55 68.44h-2.6M602.75 62.99h2.6M788.55 62.99h-2.6M602.75 58.28h2.6M788.55 58.28h-2.6M602.75 54.12h2.6M788.55 54.12h-2.6" stroke="#7c7c7c" stroke-width="0.65" fill="none"/>
<path d="M643.25 216.5v-5.8M643.25 31v5.8M785.25 216.5v-5.8M785.25 31v5.8M602.75 50.4h5.8M788.55 50.4h-5.8M602.75 131.7h5.8M788.55 131.7h-5.8M602.75 213h5.8M788.55 213h-5.8" stroke="#a6a6a6" stroke-width="0.9" fill="none"/>
<rect x="602.75" y="31" width="185.8" height="185.5" fill="none" stroke="#111111" stroke-width="1.15"/>
<g clip-path="url(#clip2)" fill="none" stroke-linecap="butt" stroke-linejoin="round">
<path d="M644.2 91.5V148.5M726.3 91.5V173.5M736.2 91.5V173.8" stroke="#f1f0f4" stroke-width="0.7"/>
<path d="M607.35 29.40 L607.39 31.17 L607.45 32.94 L607.52 34.71 L607.61 36.48 L607.70 38.25 L607.80 40.02 L607.92 41.79 L608.06 43.55 L608.23 45.32 L608.43 47.08 L608.69 48.83 L609.02 50.57 L609.50 52.29 L610.14 53.92 L611.09 55.43 L612.16 56.84 L613.25 58.23 L614.24 59.74 L614.59 61.41 L614.75 63.20 L614.98 64.97 L615.31 66.71 L615.72 68.44 L616.19 70.15 L616.69 71.84 L617.27 73.51 L617.92 75.17 L618.60 76.81 L619.29 78.44 L620.01 80.05 L620.77 81.66 L621.54 83.25 L622.32 84.84 L623.10 86.43 L623.89 88.02 L624.70 89.60 L625.52 91.17 L626.37 92.72 L627.24 94.26 L628.13 95.80 L629.04 97.32 L629.97 98.84 L630.92 100.33 L631.89 101.81 L632.89 103.27 L633.90 104.71 L634.95 106.15 L636.01 107.58 L637.10 108.99 L638.21 110.38 L639.34 111.74 L640.50 113.08 L641.69 114.38 L642.90 115.65 L644.16 116.89 L645.44 118.10 L646.76 119.29 L648.10 120.47 L649.45 121.62 L650.82 122.77 L652.19 123.89 L653.56 125.01 L654.94 126.12 L656.33 127.23 L657.74 128.31 L659.16 129.37 L660.61 130.40 L662.07 131.38 L663.55 132.34 L665.05 133.30 L666.57 134.24 L668.10 135.16 L669.65 136.05 L671.22 136.88 L672.81 137.65 L674.42 138.35 L676.05 138.97 L677.71 139.56 L679.39 140.12 L681.10 140.64 L682.82 141.12 L684.54 141.57 L686.27 141.99 L687.99 142.37 L689.72 142.74 L691.46 143.08 L693.20 143.41 L694.95 143.71 L696.71 143.99 L698.46 144.24 L700.21 144.48 L701.97 144.70 L703.73 144.90 L705.49 145.10 L707.25 145.28 L709.02 145.44 L710.78 145.60 L712.55 145.75 L714.31 145.90 L716.08 146.04 L717.85 146.17 L719.62 146.26 L721.39 146.31 L723.16 146.33 L724.93 146.36 L726.70 146.38 L728.47 146.39 L730.24 146.40 L732.01 146.40 L733.78 146.36 L735.55 146.28 L737.32 146.15 L739.09 146.00 L740.85 145.85 L742.62 145.71 L744.39 145.58 L746.15 145.44 L747.92 145.29 L749.68 145.14 L751.45 144.99 L753.21 144.85 L754.98 144.71 L756.74 144.58 L758.51 144.45 L760.28 144.32 L762.04 144.19 L763.81 144.07 L765.58 143.94 L767.34 143.81 L769.11 143.68 L770.88 143.56 L772.64 143.43 L774.41 143.29 L776.18 143.15 L777.94 143.01 L779.71 142.86 L781.47 142.71 L783.24 142.56 L785.00 142.40" stroke="#2020ff" stroke-width="1.05"/>
<path d="M610.40 29.40 L611.15 30.86 L611.89 32.32 L612.60 33.79 L613.29 35.28 L613.95 36.77 L614.56 38.29 L615.15 39.82 L615.72 41.35 L616.31 42.89 L616.92 44.40 L617.57 45.90 L618.27 47.38 L619.01 48.84 L619.75 50.30 L620.49 51.76 L621.21 53.24 L621.90 54.72 L622.58 56.21 L623.25 57.70 L623.93 59.20 L624.62 60.68 L625.33 62.15 L626.07 63.61 L626.83 65.06 L627.61 66.50 L628.41 67.93 L629.21 69.35 L630.03 70.77 L630.85 72.19 L631.68 73.60 L632.54 74.99 L633.43 76.36 L634.35 77.72 L635.28 79.06 L636.23 80.39 L637.20 81.72 L638.17 83.04 L639.13 84.36 L640.10 85.68 L641.07 87.00 L642.04 88.32 L643.02 89.63 L644.01 90.94 L645.01 92.23 L646.02 93.52 L647.03 94.81 L648.04 96.11 L649.06 97.39 L650.10 98.67 L651.16 99.92 L652.23 101.14 L653.34 102.34 L654.47 103.51 L655.62 104.67 L656.80 105.81 L658.00 106.93 L659.22 108.04 L660.46 109.13 L661.71 110.19 L662.97 111.23 L664.25 112.25 L665.53 113.24 L666.84 114.21 L668.17 115.17 L669.51 116.12 L670.87 117.04 L672.24 117.95 L673.63 118.83 L675.02 119.70 L676.42 120.55 L677.83 121.37 L679.25 122.18 L680.67 122.98 L682.11 123.76 L683.56 124.54 L685.02 125.30 L686.49 126.04 L687.96 126.76 L689.45 127.46 L690.94 128.14 L692.44 128.79 L693.94 129.42 L695.46 130.01 L696.98 130.59 L698.52 131.16 L700.06 131.70 L701.61 132.23 L703.17 132.75 L704.74 133.24 L706.31 133.72 L707.88 134.19 L709.46 134.64 L711.03 135.07 L712.62 135.45 L714.23 135.81 L715.83 136.15 L717.44 136.50 L719.03 136.88 L720.60 137.31 L722.14 137.83 L723.65 138.46 L725.16 139.11 L726.69 139.71 L728.23 140.27 L729.77 140.81 L731.33 141.32 L732.89 141.80 L734.46 142.26 L736.05 142.69 L737.64 143.05 L739.24 143.36 L740.86 143.64 L742.48 143.86 L744.11 144.04 L745.74 144.18 L747.37 144.31 L749.01 144.42 L750.64 144.51 L752.28 144.59 L753.91 144.66 L755.55 144.73 L757.18 144.78 L758.82 144.80 L760.46 144.80 L762.09 144.78 L763.73 144.75 L765.37 144.72 L767.00 144.68 L768.64 144.64 L770.28 144.60 L771.91 144.56 L773.55 144.51 L775.19 144.46 L776.82 144.41 L778.46 144.36 L780.09 144.30 L781.73 144.23 L783.36 144.17 L785.00 144.10" stroke="#ff1a1a" stroke-width="1.12" stroke-dasharray="5.1 3"/>
<path d="M609.90 36.70 L610.84 37.72 L611.77 38.73 L612.70 39.75 L613.63 40.77 L614.56 41.79 L615.49 42.81 L616.42 43.83 L617.34 44.86 L618.26 45.89 L619.16 46.94 L620.06 48.00 L620.96 49.05 L621.86 50.10 L622.78 51.13 L623.70 52.15 L624.65 53.15 L625.62 54.12 L626.62 55.06 L627.64 55.99 L628.68 56.90 L629.74 57.79 L630.80 58.68 L631.87 59.56 L632.95 60.43 L634.02 61.30 L635.09 62.16 L636.17 63.03 L637.25 63.89 L638.34 64.74 L639.44 65.59 L640.54 66.42 L641.65 67.24 L642.77 68.05 L643.90 68.84 L645.03 69.62 L646.18 70.40 L647.33 71.16 L648.50 71.91 L649.68 72.64 L650.87 73.33 L652.07 73.99 L653.29 74.61 L654.53 75.21 L655.78 75.80 L657.05 76.36 L658.32 76.91 L659.60 77.44 L660.89 77.96 L662.17 78.46 L663.46 78.95 L664.76 79.43 L666.05 79.91 L667.36 80.37 L668.67 80.82 L669.99 81.25 L671.31 81.65 L672.64 82.01 L673.97 82.33 L675.31 82.64 L676.66 82.93 L678.02 83.21 L679.37 83.47 L680.74 83.71 L682.10 83.94 L683.47 84.15 L684.84 84.34 L686.20 84.51 L687.57 84.68 L688.95 84.84 L690.32 84.99 L691.70 85.12 L693.07 85.24 L694.45 85.34 L695.83 85.42 L697.20 85.48 L698.58 85.55 L699.96 85.61 L701.34 85.67 L702.72 85.71 L704.10 85.75 L705.48 85.78 L706.87 85.80 L708.24 85.80 L709.62 85.78 L711.00 85.74 L712.38 85.70 L713.76 85.64 L715.14 85.57 L716.52 85.50 L717.90 85.43 L719.28 85.35 L720.66 85.27 L722.04 85.18 L723.41 85.07 L724.79 84.96 L726.16 84.85 L727.54 84.72 L728.92 84.60 L730.29 84.47 L731.66 84.33 L733.04 84.19 L734.41 84.03 L735.78 83.87 L737.15 83.70 L738.52 83.53 L739.89 83.36 L741.26 83.20 L742.63 83.05 L744.01 82.91 L745.38 82.77 L746.75 82.63 L748.13 82.48 L749.50 82.34 L750.87 82.20 L752.24 82.05 L753.62 81.90 L754.99 81.74 L756.36 81.58 L757.73 81.43 L759.10 81.26 L760.47 81.10 L761.84 80.94 L763.21 80.77 L764.59 80.61 L765.96 80.45 L767.33 80.29 L768.70 80.12 L770.07 79.96 L771.44 79.79 L772.81 79.61 L774.18 79.43 L775.54 79.24 L776.91 79.05 L778.28 78.85 L779.64 78.65 L781.01 78.45 L782.37 78.24 L783.74 78.02 L785.10 77.80" stroke="#ab6c30" stroke-width="1.0" stroke-dasharray="10.7 11.9" stroke-dashoffset="-1.0"/>
<path d="M608.00 163.30 L609.12 163.97 L610.25 164.62 L611.39 165.25 L612.53 165.86 L613.69 166.46 L614.85 167.03 L616.02 167.59 L617.20 168.12 L618.39 168.63 L619.59 169.13 L620.80 169.60 L622.01 170.07 L623.23 170.52 L624.45 170.97 L625.67 171.42 L626.89 171.86 L628.11 172.31 L629.33 172.75 L630.56 173.18 L631.79 173.61 L633.02 174.03 L634.25 174.44 L635.48 174.84 L636.72 175.23 L637.96 175.60 L639.21 175.96 L640.46 176.31 L641.71 176.66 L642.97 176.99 L644.23 177.32 L645.49 177.64 L646.75 177.95 L648.01 178.24 L649.28 178.53 L650.54 178.81 L651.81 179.08 L653.08 179.35 L654.36 179.61 L655.63 179.87 L656.91 180.12 L658.18 180.36 L659.46 180.59 L660.74 180.82 L662.02 181.04 L663.30 181.25 L664.58 181.46 L665.86 181.66 L667.15 181.85 L668.43 182.05 L669.72 182.23 L671.00 182.42 L672.29 182.60 L673.58 182.77 L674.86 182.94 L676.15 183.11 L677.44 183.28 L678.73 183.44 L680.01 183.60 L681.30 183.77 L682.59 183.93 L683.88 184.09 L685.17 184.24 L686.46 184.39 L687.75 184.54 L689.04 184.68 L690.33 184.82 L691.63 184.95 L692.92 185.07 L694.21 185.18 L695.50 185.29 L696.80 185.39 L698.09 185.49 L699.39 185.59 L700.68 185.68 L701.98 185.77 L703.27 185.86 L704.57 185.95 L705.87 186.03 L707.16 186.10 L708.46 186.18 L709.76 186.25 L711.05 186.32 L712.35 186.38 L713.65 186.45 L714.94 186.51 L716.24 186.58 L717.54 186.65 L718.84 186.71 L720.13 186.78 L721.43 186.84 L722.73 186.90 L724.03 186.95 L725.32 187.00 L726.62 187.04 L727.92 187.07 L729.22 187.09 L730.52 187.10 L731.81 187.10 L733.11 187.09 L734.41 187.08 L735.71 187.07 L737.01 187.05 L738.31 187.03 L739.60 187.01 L740.90 186.99 L742.20 186.96 L743.50 186.93 L744.80 186.90 L746.10 186.87 L747.39 186.84 L748.69 186.81 L749.99 186.78 L751.29 186.75 L752.59 186.72 L753.89 186.69 L755.18 186.65 L756.48 186.61 L757.78 186.57 L759.08 186.53 L760.38 186.48 L761.67 186.44 L762.97 186.39 L764.27 186.34 L765.57 186.28 L766.86 186.23 L768.16 186.17 L769.46 186.11 L770.75 186.04 L772.05 185.96 L773.34 185.88 L774.64 185.80 L775.94 185.71 L777.23 185.62 L778.53 185.53 L779.82 185.43 L781.12 185.32 L782.41 185.22 L783.71 185.11 L785.00 185.00" stroke="#17a617" stroke-width="1.05" stroke-dasharray="4.8 3.3 1.6 3.3" stroke-dashoffset="11.2"/>
<path d="M606.30 115.20 L607.07 116.50 L607.84 117.80 L608.60 119.10 L609.37 120.40 L610.14 121.70 L610.91 123.01 L611.68 124.31 L612.43 125.62 L613.18 126.94 L613.95 128.24 L614.75 129.52 L615.60 130.76 L616.50 131.97 L617.44 133.15 L618.40 134.33 L619.37 135.49 L620.35 136.64 L621.34 137.78 L622.36 138.90 L623.40 140.00 L624.47 141.05 L625.60 142.06 L626.74 143.05 L627.89 144.03 L629.06 144.99 L630.25 145.93 L631.45 146.86 L632.64 147.80 L633.80 148.76 L634.93 149.75 L636.01 150.79 L637.06 151.87 L638.08 152.98 L639.08 154.11 L640.07 155.26 L641.06 156.41 L642.06 157.56 L643.07 158.69 L644.10 159.79 L645.16 160.86 L646.26 161.90 L647.37 162.92 L648.47 163.96 L649.55 165.02 L650.63 166.08 L651.71 167.13 L652.82 168.16 L653.93 169.19 L655.07 170.18 L656.26 171.10 L657.49 171.99 L658.75 172.82 L660.05 173.59 L661.38 174.30 L662.74 174.97 L664.09 175.65 L665.44 176.33 L666.80 176.99 L668.19 177.57 L669.61 178.08 L671.05 178.54 L672.49 179.00 L673.93 179.48 L675.36 179.96 L676.79 180.45 L678.21 180.97 L679.61 181.53 L681.01 182.09 L682.42 182.64 L683.84 183.17 L685.25 183.69 L686.67 184.22 L688.09 184.73 L689.51 185.25 L690.93 185.76 L692.35 186.27 L693.77 186.79 L695.19 187.31 L696.60 187.86 L698.00 188.42 L699.40 189.00 L700.79 189.58 L702.18 190.17 L703.57 190.76 L704.98 191.33 L706.39 191.85 L707.82 192.34 L709.25 192.85 L710.65 193.41 L712.02 194.05 L713.40 194.68 L714.80 195.22 L716.23 195.69 L717.68 196.14 L719.13 196.58 L720.57 197.03 L722.01 197.48 L723.47 197.89 L724.93 198.27 L726.40 198.63 L727.87 198.97 L729.35 199.27 L730.83 199.56 L732.32 199.82 L733.81 200.06 L735.31 200.28 L736.80 200.49 L738.30 200.69 L739.80 200.88 L741.30 201.07 L742.80 201.24 L744.30 201.41 L745.81 201.56 L747.31 201.70 L748.81 201.85 L750.32 202.01 L751.82 202.17 L753.32 202.30 L754.83 202.40 L756.34 202.49 L757.85 202.58 L759.36 202.67 L760.86 202.77 L762.37 202.87 L763.88 202.97 L765.39 203.06 L766.89 203.16 L768.40 203.25 L769.91 203.34 L771.42 203.43 L772.93 203.52 L774.44 203.60 L775.94 203.68 L777.45 203.76 L778.96 203.83 L780.47 203.90 L781.98 203.97 L783.49 204.04 L785.00 204.10" stroke="#ff8a1a" stroke-width="1.28" stroke-dasharray="1.85 3.25"/>
<g transform="translate(638.1 151.7) rotate(16.2)"><ellipse rx="15" ry="2.7" stroke="#626262" stroke-width="1.12"/><ellipse rx="10.4" ry="1.6" stroke="#3e3e3e" stroke-width="1.6" fill="#cdcdcd" fill-opacity="0.75"/></g>
<g transform="translate(732.1 177.5) rotate(6.5)"><ellipse rx="18.1" ry="2.85" stroke="#800a80" stroke-width="1.5"/><ellipse rx="13" ry="1.8" stroke="#560056" stroke-width="1.7" fill="#d2b2d2" fill-opacity="0.8"/></g>
</g>
<text x="598.85" y="55.4" text-anchor="end" font-size="12.6" fill="#666666">10<tspan font-size="9" dy="-4.7">0</tspan></text>
<text x="598.85" y="136.7" text-anchor="end" font-size="12.6" fill="#666666">10<tspan font-size="9" dy="-4.7">−1</tspan></text>
<text x="598.85" y="218" text-anchor="end" font-size="12.6" fill="#666666">10<tspan font-size="9" dy="-4.7">−2</tspan></text>
<text x="631.95" y="232.7" font-size="12.6" fill="#666666">10<tspan font-size="9" dy="-5.0">1</tspan><tspan font-size="9" fill="#a0a0a0" dx="0.8">.</tspan></text>
<text x="773.95" y="232.7" font-size="12.6" fill="#666666">10<tspan font-size="9" dy="-5.0">2</tspan><tspan font-size="9" fill="#a0a0a0" dx="0.8">.</tspan></text>
<text y="253.3" font-size="13" fill="#666666"><tspan x="667.55" font-style="italic">m</tspan><tspan x="678.95" font-style="italic" font-size="9.5" dy="1.9">χ</tspan><tspan x="689.55" dy="-1.9">[GeV]</tspan></text>
<text transform="translate(562.75 191.5) rotate(-90)" font-size="13" fill="#666666"><tspan x="-0.8">(</tspan><tspan x="4.3" font-style="italic">g</tspan><tspan x="11.9" dy="2" font-style="italic" font-size="7.2">s</tspan><tspan x="18.1" font-style="italic" font-size="9.5">χ</tspan><tspan x="29.6" dy="-2" font-style="italic">g</tspan><tspan x="37.2" dy="2" font-style="italic" font-size="9.5">p</tspan><tspan x="42.4" dy="-2">)</tspan><tspan x="46.3" dy="-5.8" font-size="9">1/2</tspan><tspan x="62.9" dy="5.8">/</tspan><tspan x="67.1" font-style="italic">m</tspan><tspan x="79.1" dy="2" font-style="italic" font-size="9.5">A</tspan><tspan x="90" dy="-2">[GeV</tspan><tspan x="120.5" dy="-5.8" font-size="9.3">−1</tspan><tspan x="131.9" dy="5.8">]</tspan></text>
<text x="782.6" y="209.7" text-anchor="end" font-size="10.05" fill="#8b008b">CPV + Quark first generation coupling</text>
</g>
</svg>
</body>
</html>
